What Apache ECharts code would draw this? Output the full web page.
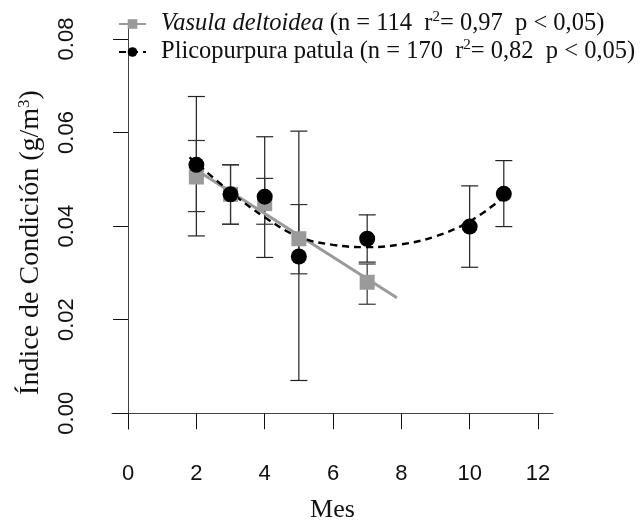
<!DOCTYPE html>
<html>
<head>
<meta charset="utf-8">
<script src="https://cdn.jsdelivr.net/npm/echarts@6/dist/echarts.min.js"></script>
<style>
html, body { margin: 0; padding: 0; background: #fff; }
#chart { width: 640px; height: 528px; }
</style>
</head>
<body>
<div id="chart"></div>
<script>
// ticks
var xTicks = [0, 2, 4, 6, 8, 10, 12];
var yTicks = [0, 0.02, 0.04, 0.06, 0.08];

// Vasula deltoidea (media, limite sup, limite inf)
var vasMes = [2, 3, 4, 5, 7];
var vasMedia = [0.0505, 0.0468, 0.0448, 0.0373, 0.0280];
var vasSup = [0.0583, 0.0531, 0.0502, 0.0446, 0.0319];
var vasInf = [0.0431, 0.0404, 0.0404, 0.0298, 0.0233];
// recta ajustada
var vasAjusteX = [2, 7.87];
var vasAjusteY = [0.0520, 0.0247];

// Plicopurpura patula
var pliMes = [2, 3, 4, 5, 7, 10, 11];
var pliMedia = [0.0531, 0.0468, 0.0463, 0.0335, 0.0373, 0.0399, 0.0469];
var pliSup = [0.0677, 0.0531, 0.0591, 0.0603, 0.0424, 0.0486, 0.0540];
var pliInf = [0.0379, 0.0404, 0.0333, 0.0070, 0.0323, 0.0312, 0.0399];
// curva cuadratica
var pliCurvaX = [1.8, 3, 4, 5, 6, 7, 8, 9, 10, 10.9];
var pliCurvaY = [0.0547, 0.0473, 0.0419, 0.0377, 0.0360, 0.0355, 0.0361, 0.0378, 0.0410, 0.0456];

var serif = '"Liberation Serif", "Times New Roman", serif';
var sans = '"Liberation Sans", Arial, sans-serif';

function pares(xs, ys) {
    return xs.map(function (x, i) { return [x, ys[i]]; });
}

// barras de error
function barrasError(mes, sup, inf, color) {
    return {
        type: 'custom',
        silent: true,
        z: 1,
        data: mes.map(function (m, i) { return [m, inf[i], sup[i]]; }),
        encode: { x: 0, y: [1, 2] },
        renderItem: function (params, api) {
            var lo = api.coord([api.value(0), api.value(1)]);
            var hi = api.coord([api.value(0), api.value(2)]);
            var w = 8.5;
            var st = { stroke: color, lineWidth: 1.2 };
            return {
                type: 'group',
                children: [
                    { type: 'line', shape: { x1: hi[0], y1: hi[1], x2: lo[0], y2: lo[1] }, style: st },
                    { type: 'line', shape: { x1: hi[0] - w, y1: hi[1], x2: hi[0] + w, y2: hi[1] }, style: st },
                    { type: 'line', shape: { x1: lo[0] - w, y1: lo[1], x2: lo[0] + w, y2: lo[1] }, style: st }
                ]
            };
        }
    };
}

var option = {
    animation: false,
    backgroundColor: '#fff',
    grid: { left: 112, right: 87, top: 24, bottom: 93 },
    legend: {
        orient: 'vertical',
        left: 118,
        top: 10,
        padding: 0,
        itemGap: 0,
        itemWidth: 27,
        itemHeight: 12,
        data: ['Vasula', 'Plico'],
        formatter: function (name) {
            if (name === 'Vasula') {
                return '{i|Vasula deltoidea}{t| (n = 114  r}{s|2}{t|= 0,97  p < 0,05)}';
            }
            return '{t|Plicopurpura patula (n = 170  r}{s|2}{t|= 0,82  p < 0,05)}';
        },
        textStyle: {
            padding: [0, 0, 0, 10],
            lineHeight: 28,
            rich: {
                t: { fontFamily: serif, fontSize: 24.5, color: '#111', lineHeight: 28 },
                i: { fontFamily: serif, fontSize: 24.5, fontStyle: 'italic', color: '#111', lineHeight: 28 },
                s: { fontFamily: serif, fontSize: 15, color: '#111', verticalAlign: 'top', lineHeight: 28 }
            }
        }
    },
    xAxis: {
        type: 'value',
        min: -0.47,
        max: 12.44,
        name: 'Mes',
        nameLocation: 'middle',
        nameGap: 68,
        nameTextStyle: { fontFamily: serif, fontSize: 26, color: '#111' },
        splitLine: { show: false },
        axisLine: { lineStyle: { color: '#444', width: 1 } },
        axisTick: { customValues: xTicks, length: 16, lineStyle: { color: '#111' } },
        axisLabel: {
            customValues: xTicks,
            margin: 34,
            fontFamily: sans,
            fontSize: 22,
            color: '#111'
        }
    },
    yAxis: {
        type: 'value',
        min: -0.00337,
        max: 0.0832,
        name: '{a|Índice de Condición (g/m}{s|3}{a|)}',
        nameLocation: 'middle',
        nameGap: 66,
        nameRotate: 90,
        nameTextStyle: {
            padding: [0, 32, 0, 0],
            rich: {
                a: { fontFamily: serif, fontSize: 28, color: '#111', lineHeight: 30 },
                s: { fontFamily: serif, fontSize: 17, color: '#111', verticalAlign: 'top', lineHeight: 30 }
            }
        },
        splitLine: { show: false },
        axisLine: { lineStyle: { color: '#444', width: 1 } },
        axisTick: { customValues: yTicks, length: 15, lineStyle: { color: '#111' } },
        axisLabel: {
            customValues: yTicks,
            rotate: 90,
            margin: 34,
            fontFamily: sans,
            fontSize: 22,
            color: '#111',
            formatter: function (v) { return v.toFixed(2); }
        }
    },
    series: [
        barrasError(pliMes, pliSup, pliInf, '#222'),
        barrasError(vasMes, vasSup, vasInf, '#333'),
        {
            name: 'Vasula',
            type: 'line',
            data: pares(vasAjusteX, vasAjusteY),
            symbol: 'rect',
            symbolSize: 12,
            showSymbol: false,
            color: '#9a9a9a',
            lineStyle: { color: '#9a9a9a', width: 3 },
            z: 3
        },
        {
            name: 'Plico',
            type: 'line',
            data: pares(pliCurvaX, pliCurvaY),
            smooth: 0.4,
            symbol: 'circle',
            symbolSize: 12,
            showSymbol: false,
            color: '#000',
            lineStyle: { color: '#000', width: 2.4, type: [7, 5] },
            z: 3
        },
        {
            name: 'VasulaPts',
            type: 'scatter',
            data: pares(vasMes, vasMedia),
            symbol: 'rect',
            symbolSize: 15,
            itemStyle: { color: '#9a9a9a', opacity: 1 },
            z: 4
        },
        {
            name: 'PlicoPts',
            type: 'scatter',
            data: pares(pliMes, pliMedia),
            symbol: 'circle',
            symbolSize: 16,
            itemStyle: { color: '#000', opacity: 1 },
            z: 5
        }
    ]
};

var chart = echarts.init(document.getElementById('chart'));
chart.setOption(option);
</script>
</body>
</html>
